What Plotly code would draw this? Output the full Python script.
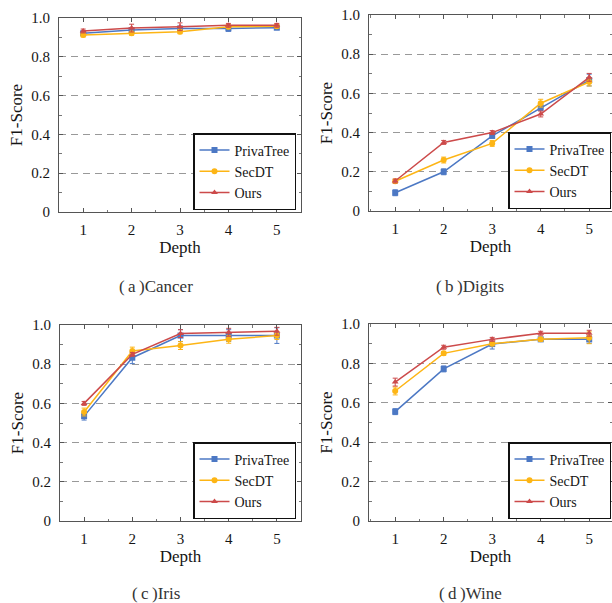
import plotly.graph_objects as go

depth = [1, 2, 3, 4, 5]
series_names = ["PrivaTree", "SecDT", "Ours"]
panel_titles = ["(\u2009a\u2009)Cancer", "(\u2009b\u2009)Digits", "(\u2009c\u2009)Iris", "(\u2009d\u2009)Wine"]
y_ticks = [0, 0.2, 0.4, 0.6, 0.8, 1.0]
y_tick_text = ["0", "0.2", "0.4", "0.6", "0.8", "1.0"]

# Cancer
cancer_privatree = [0.921, 0.938, 0.946, 0.946, 0.950]
cancer_secdt = [0.912, 0.921, 0.929, 0.955, 0.958]
cancer_ours = [0.933, 0.948, 0.955, 0.962, 0.962]
cancer_privatree_err = [0.01, 0.01, 0.01, 0.015, 0.01]
cancer_secdt_err = [0.01, 0.01, 0.01, 0.01, 0.01]
cancer_ours_err = [0.01, 0.02, 0.02, 0.01, 0.01]

# Digits
digits_privatree = [0.093, 0.200, 0.383, 0.527, 0.668]
digits_secdt = [0.152, 0.260, 0.345, 0.550, 0.658]
digits_ours = [0.153, 0.350, 0.400, 0.495, 0.682]
digits_privatree_err = [0.015, 0.015, 0.01, 0.015, 0.03]
digits_secdt_err = [0.01, 0.015, 0.015, 0.02, 0.02]
digits_ours_err = [0.01, 0.01, 0.01, 0.015, 0.02]

# Iris
iris_privatree = [0.535, 0.833, 0.946, 0.946, 0.946]
iris_secdt = [0.556, 0.867, 0.895, 0.927, 0.946]
iris_ours = [0.600, 0.850, 0.956, 0.963, 0.968]
iris_privatree_err = [0.02, 0.03, 0.03, 0.03, 0.04]
iris_secdt_err = [0.02, 0.02, 0.02, 0.02, 0.02]
iris_ours_err = [0.01, 0.01, 0.02, 0.02, 0.02]

# Wine
wine_privatree = [0.555, 0.772, 0.898, 0.922, 0.922]
wine_secdt = [0.660, 0.851, 0.900, 0.922, 0.930]
wine_ours = [0.705, 0.882, 0.922, 0.953, 0.953]
wine_privatree_err = [0.015, 0.015, 0.025, 0.01, 0.02]
wine_secdt_err = [0.02, 0.01, 0.01, 0.01, 0.03]
wine_ours_err = [0.02, 0.01, 0.01, 0.01, 0.015]

panels = [
    ([cancer_privatree, cancer_secdt, cancer_ours],
     [cancer_privatree_err, cancer_secdt_err, cancer_ours_err]),
    ([digits_privatree, digits_secdt, digits_ours],
     [digits_privatree_err, digits_secdt_err, digits_ours_err]),
    ([iris_privatree, iris_secdt, iris_ours],
     [iris_privatree_err, iris_secdt_err, iris_ours_err]),
    ([wine_privatree, wine_secdt, wine_ours],
     [wine_privatree_err, wine_secdt_err, wine_ours_err]),
]

colors = ["#4C78C4", "#FDB515", "#CC4A4A"]
symbols = ["square", "circle", "triangle-up"]

W, H = 612, 603
# pixel boxes (left, right, top, bottom)
boxes = [
    (59, 301, 18, 212),
    (369, 612, 15, 211),
    (60, 301, 325, 521),
    (369, 612, 324, 521),
]
xranges = [[0.5, 5.5], [0.46, 5.47], [0.5, 5.5], [0.46, 5.47]]
legend_right = [296, 611, 296, 611]
caption_x = [156, 470, 156, 470]
caption_y = [286, 286, 593, 593]

SERIF = "Liberation Serif"
TXT = "#151515"

fig = go.Figure()
layout = dict(
    width=W, height=H, margin=dict(l=0, r=0, t=0, b=0, autoexpand=False),
    paper_bgcolor="white", plot_bgcolor="white",
    font=dict(family=SERIF, size=14, color=TXT),
    annotations=[],
)

for i, (vals, errs) in enumerate(panels):
    n = i + 1
    xa = "x" if n == 1 else f"x{n}"
    ya = "y" if n == 1 else f"y{n}"
    lg = "legend" if n == 1 else f"legend{n}"
    for j in range(3):
        fig.add_trace(go.Scatter(
            x=depth, y=vals[j], name=series_names[j], xaxis=xa, yaxis=ya,
            mode="lines+markers",
            line=dict(color=colors[j], width=1.5),
            marker=dict(symbol=symbols[j], size=6, color=colors[j]),
            error_y=dict(type="data", array=errs[j], color=colors[j],
                         thickness=1, width=2.5),
            legend=lg, cliponaxis=False,
        ))
    l, r, t, b = boxes[i]
    xd = [l / W, r / W]
    yd = [1 - b / H, 1 - t / H]
    axkey = "xaxis" if n == 1 else f"xaxis{n}"
    aykey = "yaxis" if n == 1 else f"yaxis{n}"
    layout[axkey] = dict(
        domain=xd, range=xranges[i], anchor=ya, automargin=False,
        tickmode="array", tickvals=depth, ticks="inside", ticklen=4,
        tickcolor="#555", showgrid=False, zeroline=False,
        showline=True, linecolor="#555", linewidth=1, mirror="ticks",
        minor=dict(ticks="inside", dtick=0.5, tick0=0.5, ticklen=2.5, tickcolor="#777"),
        tickfont=dict(family=SERIF, size=15, color=TXT),
        ticklabelstandoff=4,
        title=dict(text="Depth", font=dict(family=SERIF, size=17, color=TXT), standoff=2),
        fixedrange=True,
    )
    layout[aykey] = dict(
        domain=yd, range=[0, 1.0], anchor=xa, automargin=False,
        tickmode="array", tickvals=y_ticks, ticktext=y_tick_text,
        ticks="inside", ticklen=4, tickcolor="#555",
        showgrid=True, gridcolor="#999", griddash="7px,5px", gridwidth=1,
        zeroline=False, showline=True, linecolor="#555", linewidth=1, mirror="ticks",
        minor=dict(ticks="inside", dtick=0.1, ticklen=2.5, tickcolor="#777", showgrid=False),
        tickfont=dict(family=SERIF, size=15, color=TXT),
        ticklabelstandoff=5,
        title=dict(text="F1-Score", font=dict(family=SERIF, size=17, color=TXT), standoff=4),
        fixedrange=True,
    )
    layout[lg] = dict(
        x=legend_right[i] / W, y=1 - (b - 2) / H, xanchor="right", yanchor="bottom",
        bgcolor="white", bordercolor="#111", borderwidth=1.5,
        font=dict(family=SERIF, size=14, color=TXT),
        itemwidth=30, tracegroupgap=0,
    )
    layout["annotations"].append(dict(
        text=panel_titles[i], x=caption_x[i] / W, y=1 - caption_y[i] / H,
        xref="paper", yref="paper", showarrow=False,
        xanchor="center", yanchor="middle",
        font=dict(family=SERIF, size=17, color="#333"),
    ))

fig.update_layout(**layout)
fig.write_html(
    "out.html",
    config={"displayModeBar": False},
    post_script="document.body.style.margin='0';document.body.style.padding='0';"
                "document.body.style.overflow='hidden';"
                "document.documentElement.style.overflow='hidden';",
)
